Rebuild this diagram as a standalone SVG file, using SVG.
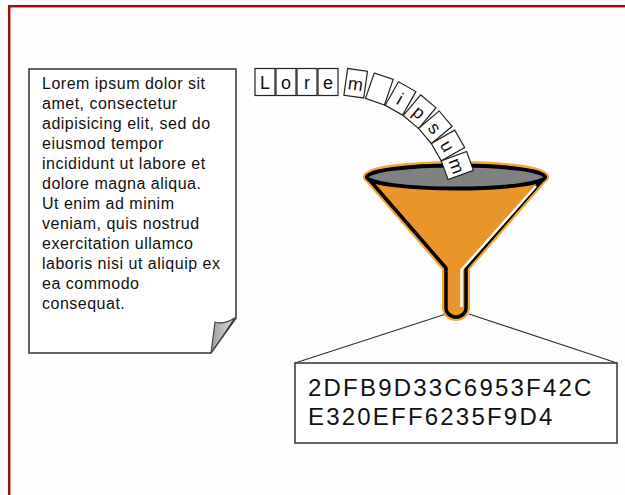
<svg xmlns="http://www.w3.org/2000/svg" width="625" height="495" viewBox="0 0 625 495">
  <style>
    .para { font-family: "Liberation Sans", Arial, sans-serif; font-size: 16px; letter-spacing: 0.5px; fill: #111; }
    .hash { font-family: "Liberation Sans", Arial, sans-serif; font-size: 24px; letter-spacing: 2.2px; fill: #111; }
    .tile rect { fill: #fff; stroke: #222; stroke-width: 1.2; }
    .tile text { font-family: "Liberation Sans", Arial, sans-serif; font-size: 18px; fill: #111; text-anchor: middle; }
    .link { stroke: #333; stroke-width: 1.3; fill: none; }
  </style>
  <defs>
    <linearGradient id="curl" x1="0" y1="0" x2="1" y2="0">
      <stop offset="0" stop-color="#9a9a9a"/>
      <stop offset="1" stop-color="#e0e0e0"/>
    </linearGradient>
  </defs>

  <!-- frame -->
  <rect x="0" y="0" width="625" height="495" fill="#fff"/>
  <rect x="9.2" y="6.2" width="700" height="600" fill="#fdfdfd" stroke="#991111" stroke-width="2.5"/>

  <!-- source document -->
  <g id="document">
    <path d="M29,69 H236 V318 L211,353 H29 Z" fill="#fff" stroke="#333" stroke-width="1.5"/>
    <path d="M234.5,318 Q224,325 215,322 L211,353 Q225,333 234.5,318 Z" fill="url(#curl)" stroke="#444" stroke-width="1.2" stroke-linejoin="round"/>
    <text class="para">
      <tspan x="42" y="89">Lorem ipsum dolor sit</tspan>
      <tspan x="42" y="109">amet, consectetur</tspan>
      <tspan x="42" y="129">adipisicing elit, sed do</tspan>
      <tspan x="42" y="149">eiusmod tempor</tspan>
      <tspan x="42" y="169">incididunt ut labore et</tspan>
      <tspan x="42" y="189">dolore magna aliqua.</tspan>
      <tspan x="42" y="209">Ut enim ad minim</tspan>
      <tspan x="42" y="229">veniam, quis nostrud</tspan>
      <tspan x="42" y="249">exercitation ullamco</tspan>
      <tspan x="42" y="269">laboris nisi ut aliquip ex</tspan>
      <tspan x="42" y="289">ea commodo</tspan>
      <tspan x="42" y="309">consequat.</tspan>
    </text>
  </g>

  <!-- connectors from the funnel spout to the digest -->
  <g id="connectors">
    <line class="link" x1="446" y1="314" x2="295" y2="363"/>
    <line class="link" x1="469" y1="314" x2="617" y2="363"/>
  </g>

  <!-- funnel -->
  <g id="funnel">
    <path d="M367,177 L446,268 V308 A10,9 0 0 0 466,308 V268 L545,177 Z" fill="#e9952a" stroke="#f2a63a" stroke-width="8" stroke-linejoin="round"/>
    <ellipse cx="456" cy="177" rx="89" ry="12" fill="none" stroke="#f2a63a" stroke-width="8"/>
    <path d="M367,177 L446,268 V308 A10,9 0 0 0 466,308 V268 L545,177 Z" fill="#e9952a" stroke="#000" stroke-width="3.5" stroke-linejoin="round"/>
    <polyline points="536,186 461.5,270 461.5,307" fill="none" stroke="#fff" stroke-width="2.5"/>
    <ellipse cx="456" cy="177" rx="89" ry="11.5" fill="#808282" stroke="#000" stroke-width="4"/>
  </g>

  <!-- letter tiles falling into the funnel -->
  <g id="letters">
    <g class="tile"><rect x="255" y="68.5" width="20" height="27"/><text x="265" y="89">L</text></g>
    <g class="tile"><rect x="276" y="68.5" width="20" height="27"/><text x="286" y="89">o</text></g>
    <g class="tile"><rect x="297" y="68.5" width="20" height="27"/><text x="307" y="89">r</text></g>
    <g class="tile"><rect x="318" y="68.5" width="20" height="27"/><text x="328" y="89">e</text></g>
    <g class="tile" transform="rotate(8 338 209)"><rect x="328" y="68.5" width="20" height="27"/><text x="338" y="89">m</text></g>
    <g class="tile" transform="rotate(19 338 209)"><rect x="328" y="68.5" width="20" height="27"/></g>
    <g class="tile" transform="rotate(29.5 338 209)"><rect x="328" y="68.5" width="20" height="27"/><text x="338" y="89">i</text></g>
    <g class="tile" transform="rotate(40 338 209)"><rect x="328" y="68.5" width="20" height="27"/><text x="338" y="89">p</text></g>
    <g class="tile" transform="rotate(50 338 209)"><rect x="328" y="68.5" width="20" height="27"/><text x="338" y="89">s</text></g>
    <g class="tile" transform="rotate(60 338 209)"><rect x="328" y="68.5" width="20" height="27"/><text x="338" y="89">u</text></g>
    <g class="tile" transform="rotate(70 338 209)"><rect x="328" y="68.5" width="20" height="27"/><text x="338" y="89">m</text></g>
  </g>

  <!-- digest output -->
  <g id="digest">
    <rect x="295" y="363" width="322" height="80" fill="#fff" stroke="#333" stroke-width="1.5"/>
    <text class="hash" x="308" y="396">2DFB9D33C6953F42C</text>
    <text class="hash" x="308" y="425">E320EFF6235F9D4</text>
  </g>
</svg>
